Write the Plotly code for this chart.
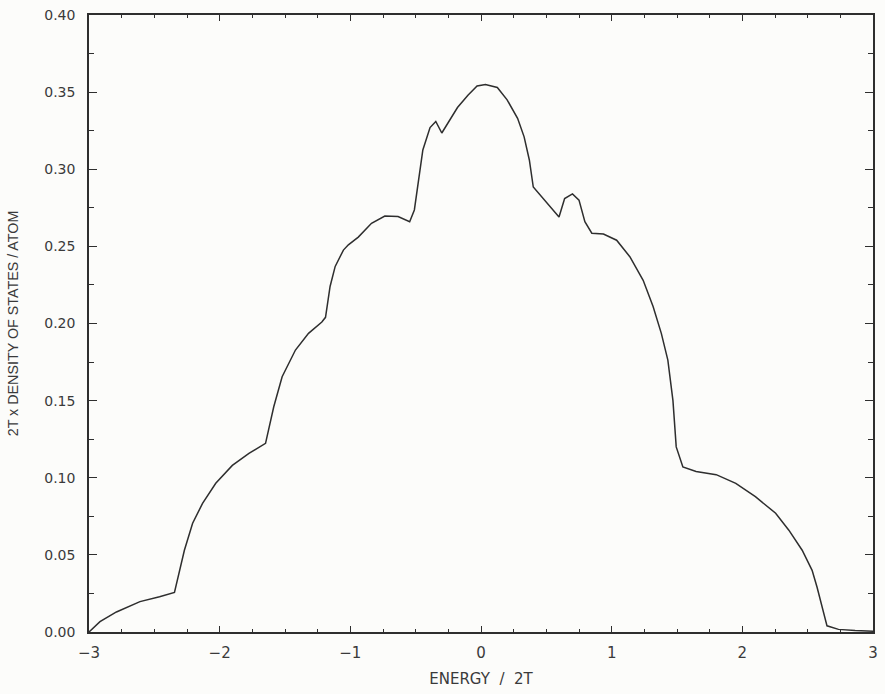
import plotly.graph_objects as go

# Energy in units of 2T
energy = [
    -3.0, -2.96, -2.916, -2.79, -2.61, -2.46, -2.346,
    -2.27, -2.207, -2.131, -2.03, -1.903, -1.776, -1.649,
    -1.586, -1.522, -1.42, -1.32, -1.218, -1.19, -1.155, -1.116,
    -1.053, -1.015, -0.939, -0.838, -0.736, -0.635, -0.546,
    -0.51, -0.445, -0.39, -0.346, -0.30, -0.18, -0.10, -0.03,
    0.034, 0.125, 0.20, 0.28, 0.33, 0.37, 0.40,
    0.597, 0.64, 0.70, 0.75, 0.795, 0.848, 0.937,
    1.038, 1.139, 1.241, 1.317, 1.38, 1.43, 1.469, 1.494, 1.545,
    1.646, 1.80, 1.95, 2.10, 2.255, 2.356, 2.458, 2.534, 2.572,
    2.648, 2.736, 2.863, 3.0,
]

# 2T x density of states per atom
dos = [
    0.0, 0.0035, 0.0067, 0.013, 0.0197, 0.0229, 0.0257,
    0.053, 0.0705, 0.0834, 0.0964, 0.108, 0.1158, 0.1223,
    0.146, 0.1655, 0.1828, 0.1936, 0.201, 0.204, 0.224, 0.237,
    0.2476, 0.251, 0.256, 0.265, 0.2697, 0.2693, 0.266,
    0.2736, 0.3125, 0.327, 0.331, 0.3235, 0.340, 0.348, 0.354,
    0.355, 0.353, 0.345, 0.333, 0.321, 0.306, 0.2885,
    0.269, 0.281, 0.284, 0.280, 0.266, 0.2585, 0.258,
    0.254, 0.2433, 0.228, 0.211, 0.1936, 0.1763, 0.150, 0.120, 0.107,
    0.104, 0.102, 0.0964, 0.0877, 0.077, 0.066, 0.053, 0.040, 0.029,
    0.004, 0.0017, 0.0009, 0.0005,
]

x_ticks = [-3, -2, -1, 0, 1, 2, 3]
y_ticks = [0.00, 0.05, 0.10, 0.15, 0.20, 0.25, 0.30, 0.35, 0.40]

ink = "#2e2e2e"
paper = "#fcfcfa"
wide = "DejaVu Sans, Verdana, sans-serif"
font = dict(family=wide, size=14, color="#3a3a3a")

fig = go.Figure(
    go.Scatter(
        x=energy, y=dos, mode="lines",
        line=dict(color=ink, width=1.5),
        hoverinfo="x+y",
    )
)

fig.update_layout(
    width=885, height=694,
    margin=dict(l=89, r=7, t=15, b=62),
    paper_bgcolor=paper, plot_bgcolor=paper,
    showlegend=False,
    font=font,
)

fig.update_xaxes(
    range=[-3, 3],
    tickvals=x_ticks,
    ticktext=[str(v).replace("-", "\u2212") for v in x_ticks],
    ticks="inside", ticklen=6, tickwidth=1.2, tickcolor=ink,
    minor=dict(dtick=0.25, tick0=0, ticks="inside", ticklen=3, tickwidth=1.2, tickcolor=ink),
    showline=True, linecolor=ink, linewidth=1.5, mirror="ticks",
    showgrid=False, zeroline=False,
    tickfont=dict(size=15, family=wide),
    ticklabelstandoff=6,
    title=dict(text="ENERGY  /  2T", font=dict(size=15, family=wide), standoff=13),
)

fig.update_yaxes(
    range=[0, 0.40],
    tickvals=y_ticks,
    ticktext=[f"{v:.2f}" for v in y_ticks],
    ticks="inside", ticklen=8, tickwidth=1.2, tickcolor=ink,
    minor=dict(dtick=0.025, tick0=0, ticks="inside", ticklen=5, tickwidth=1.2, tickcolor=ink),
    showline=True, linecolor=ink, linewidth=1.5, mirror="ticks",
    showgrid=False, zeroline=False,
    tickfont=dict(size=14, family=wide),
    ticklabelstandoff=9,
    title=dict(text="2T x DENSITY OF STATES / ATOM",
               font=dict(size=14.3, family="Liberation Sans Narrow, Liberation Sans, sans-serif"),
               standoff=22),
)

fig.write_html("out.html")
